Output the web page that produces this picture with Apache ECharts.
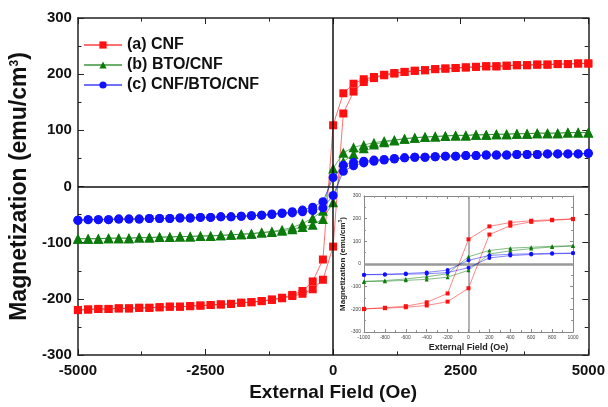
<!DOCTYPE html>
<html>
<head>
<meta charset="utf-8">
<script src="https://cdn.jsdelivr.net/npm/echarts@6/dist/echarts.min.js"></script>
<style>
html, body { margin: 0; padding: 0; background: #fff; }
#chart { width: 608px; height: 407px; }
</style>
</head>
<body>
<div id="chart"></div>
<script>
// 磁场 (Oe)
var fields = [-5000,-4800,-4600,-4400,-4200,-4000,-3800,-3600,-3400,-3200,-3000,-2800,-2600,-2400,-2200,-2000,-1800,-1600,-1400,-1200,-1000,-800,-600,-400,-200,0,200,400,600,800,1000,1200,1400,1600,1800,2000,2200,2400,2600,2800,3000,3200,3400,3600,3800,4000,4200,4400,4600,4800,5000];

// 下降支 (上支) / 上升支 (下支)
var cnfDesc = [-220,-219,-218,-218,-217,-217,-216,-216,-215,-214,-214,-213,-212,-211,-210,-209,-207,-206,-204,-201,-198,-193,-186,-169,-130,109,166,183,191,195,199,202,204,206,207,209,210,211,212,213,214,214,215,216,216,217,217,218,218,219,219];
var cnfAsc = [-220,-219,-218,-218,-217,-217,-216,-216,-215,-214,-214,-213,-212,-211,-210,-209,-207,-206,-204,-202,-199,-195,-191,-183,-166,-107,130,169,186,193,198,201,204,206,207,209,210,211,212,213,214,214,215,216,216,217,217,218,218,219,219];

var btoDesc = [-93,-93,-93,-92,-92,-92,-91,-91,-90,-90,-89,-89,-88,-88,-87,-86,-85,-84,-82,-80,-77,-73,-66,-56,-43,32,60,70,74,78,81,83,85,87,88,89,90,91,91,92,92,93,93,94,94,95,95,95,96,96,96];
var btoAsc = [-93,-93,-93,-92,-92,-92,-91,-91,-90,-90,-89,-89,-88,-88,-87,-86,-85,-84,-82,-81,-79,-76,-72,-68,-58,-28,44,58,68,75,79,82,85,87,88,89,90,91,91,92,92,93,93,94,94,95,95,95,96,96,96];

var triDesc = [-60,-59,-59,-59,-58,-58,-58,-57,-57,-57,-56,-56,-55,-55,-54,-54,-53,-52,-51,-49,-47,-45,-42,-37,-27,16,38,43,45,47,48,50,51,52,52,53,54,54,55,55,56,56,56,57,57,57,58,58,58,58,59];
var triAsc = [-60,-59,-59,-59,-58,-58,-58,-57,-57,-57,-56,-56,-55,-55,-54,-54,-53,-52,-51,-50,-48,-47,-45,-43,-38,-16,27,37,42,45,47,49,51,52,52,53,54,54,55,55,56,56,56,57,57,57,58,58,58,58,59];

var names = ['(a) CNF', '(b) BTO/CNF', '(c) CNF/BTO/CNF'];
var colors = ['#ff1010', '#0b7a0b', '#1010ff'];
var symbols = ['rect', 'triangle', 'circle'];
var symbolSizes = [8, 10, 9];

// 回线: 先从 +5000 扫到 -5000, 再扫回来
function loop(desc, asc, lim) {
    var pts = [];
    for (var i = fields.length - 1; i >= 0; i--) {
        if (Math.abs(fields[i]) <= lim) pts.push([fields[i], desc[i]]);
    }
    for (var j = 0; j < fields.length; j++) {
        if (Math.abs(fields[j]) <= lim) pts.push([fields[j], asc[j]]);
    }
    return pts;
}

var branches = [[cnfDesc, cnfAsc], [btoDesc, btoAsc], [triDesc, triAsc]];
var font = 'Liberation Sans, Arial, sans-serif';
var plain = function (v) { return String(v); };

var myChart = echarts.init(document.getElementById('chart'));

var series = [];
branches.forEach(function (b, k) {
    series.push({
        name: names[k],
        type: 'line',
        xAxisIndex: 0,
        yAxisIndex: 0,
        data: loop(b[0], b[1], 5000),
        symbol: symbols[k],
        symbolSize: symbolSizes[k],
        itemStyle: { color: colors[k] },
        lineStyle: { color: colors[k], width: 1, opacity: 0.6 },
        z: 3 + k
    });
});
branches.forEach(function (b, k) {
    series.push({
        name: names[k],
        type: 'line',
        xAxisIndex: 2,
        yAxisIndex: 2,
        data: loop(b[0], b[1], 1000),
        symbol: symbols[k],
        symbolSize: 4,
        itemStyle: { color: colors[k] },
        lineStyle: { color: colors[k], width: 1, opacity: 0.5 },
        z: 10
    });
});

// 零线
series[0].markLine = {
    silent: true, symbol: 'none', label: { show: false },
    lineStyle: { color: '#111', type: 'solid', width: 1.5 },
    data: [{ xAxis: 0 }, { yAxis: 0 }]
};
series[3].markLine = {
    silent: true, symbol: 'none', label: { show: false },
    lineStyle: { color: '#999', type: 'solid', width: 1.5 },
    data: [{ xAxis: 0 }, { yAxis: 0, lineStyle: { width: 2.5 } }]
};

function frameAxis(grid, pos, min, max, interval, tickLen) {
    return {
        type: 'value', gridIndex: grid, position: pos,
        min: min, max: max, interval: interval,
        axisLine: { onZero: false, lineStyle: { color: grid === 0 ? '#222' : '#888', width: grid === 0 ? 1.5 : 1 } },
        axisTick: { inside: true, length: tickLen, lineStyle: { color: grid === 0 ? '#222' : '#888' } },
        minorTick: { show: true, splitNumber: 2, length: tickLen * 0.6, lineStyle: { color: grid === 0 ? '#222' : '#888' } },
        axisLabel: { show: false },
        splitLine: { show: false }
    };
}

var xMain = frameAxis(0, 'bottom', -5000, 5000, 2500, 6);
xMain.axisLabel = { show: true, formatter: plain, fontSize: 15, fontWeight: 'bold', color: '#111', fontFamily: font, margin: 8 };
xMain.name = 'External Field (Oe)';
xMain.nameLocation = 'middle';
xMain.nameGap = 28;
xMain.nameTextStyle = { fontSize: 19, fontWeight: 'bold', color: '#111', fontFamily: font };

var yMain = frameAxis(0, 'left', -300, 300, 100, 6);
yMain.axisLabel = { show: true, formatter: plain, fontSize: 15, fontWeight: 'bold', color: '#111', fontFamily: font, margin: 6 };
yMain.name = 'Magnetization (emu/cm{s|3})';
yMain.nameLocation = 'middle';
yMain.nameGap = 33;
yMain.nameTextStyle = {
    fontSize: 23, fontWeight: 'bold', color: '#111', fontFamily: font,
    rich: { s: { fontSize: 12, fontWeight: 'bold', color: '#111', fontFamily: font, padding: [0, 0, 10, 0] } }
};

var xIn = frameAxis(1, 'bottom', -1000, 1000, 200, 3);
xIn.axisLabel = { show: true, formatter: plain, fontSize: 5, color: '#444', fontFamily: font, margin: 3 };
xIn.name = 'External Field (Oe)';
xIn.nameLocation = 'middle';
xIn.nameGap = 11;
xIn.nameTextStyle = { fontSize: 9, fontWeight: 'bold', color: '#222', fontFamily: font };

var yIn = frameAxis(1, 'left', -300, 300, 100, 3);
yIn.axisLabel = { show: true, formatter: plain, fontSize: 5, color: '#444', fontFamily: font, margin: 3 };
yIn.name = 'Magnetization (emu/cm{s|3})';
yIn.nameLocation = 'middle';
yIn.nameGap = 13;
yIn.nameTextStyle = {
    fontSize: 8, fontWeight: 'bold', color: '#222', fontFamily: font,
    rich: { s: { fontSize: 5, fontWeight: 'bold', color: '#222', fontFamily: font, padding: [0, 0, 4, 0] } }
};

var option = {
    animation: false,
    backgroundColor: '#fff',
    legend: {
        orient: 'vertical',
        left: 78,
        top: 32,
        itemWidth: 38,
        itemHeight: 9,
        itemGap: 4,
        data: names,
        textStyle: { fontSize: 16, fontWeight: 'bold', color: '#111', fontFamily: font, lineHeight: 16 }
    },
    grid: [
        { left: 67, right: 17, top: 18, bottom: 46 },
        { left: 364, top: 196, width: 209, height: 136, show: true, backgroundColor: '#fff', borderWidth: 0 }
    ],
    xAxis: [xMain, frameAxis(0, 'top', -5000, 5000, 2500, 6), xIn, frameAxis(1, 'top', -1000, 1000, 200, 3)],
    yAxis: [yMain, frameAxis(0, 'right', -300, 300, 100, 6), yIn, frameAxis(1, 'right', -300, 300, 100, 3)],
    series: series
};

myChart.setOption(option);
</script>
</body>
</html>
